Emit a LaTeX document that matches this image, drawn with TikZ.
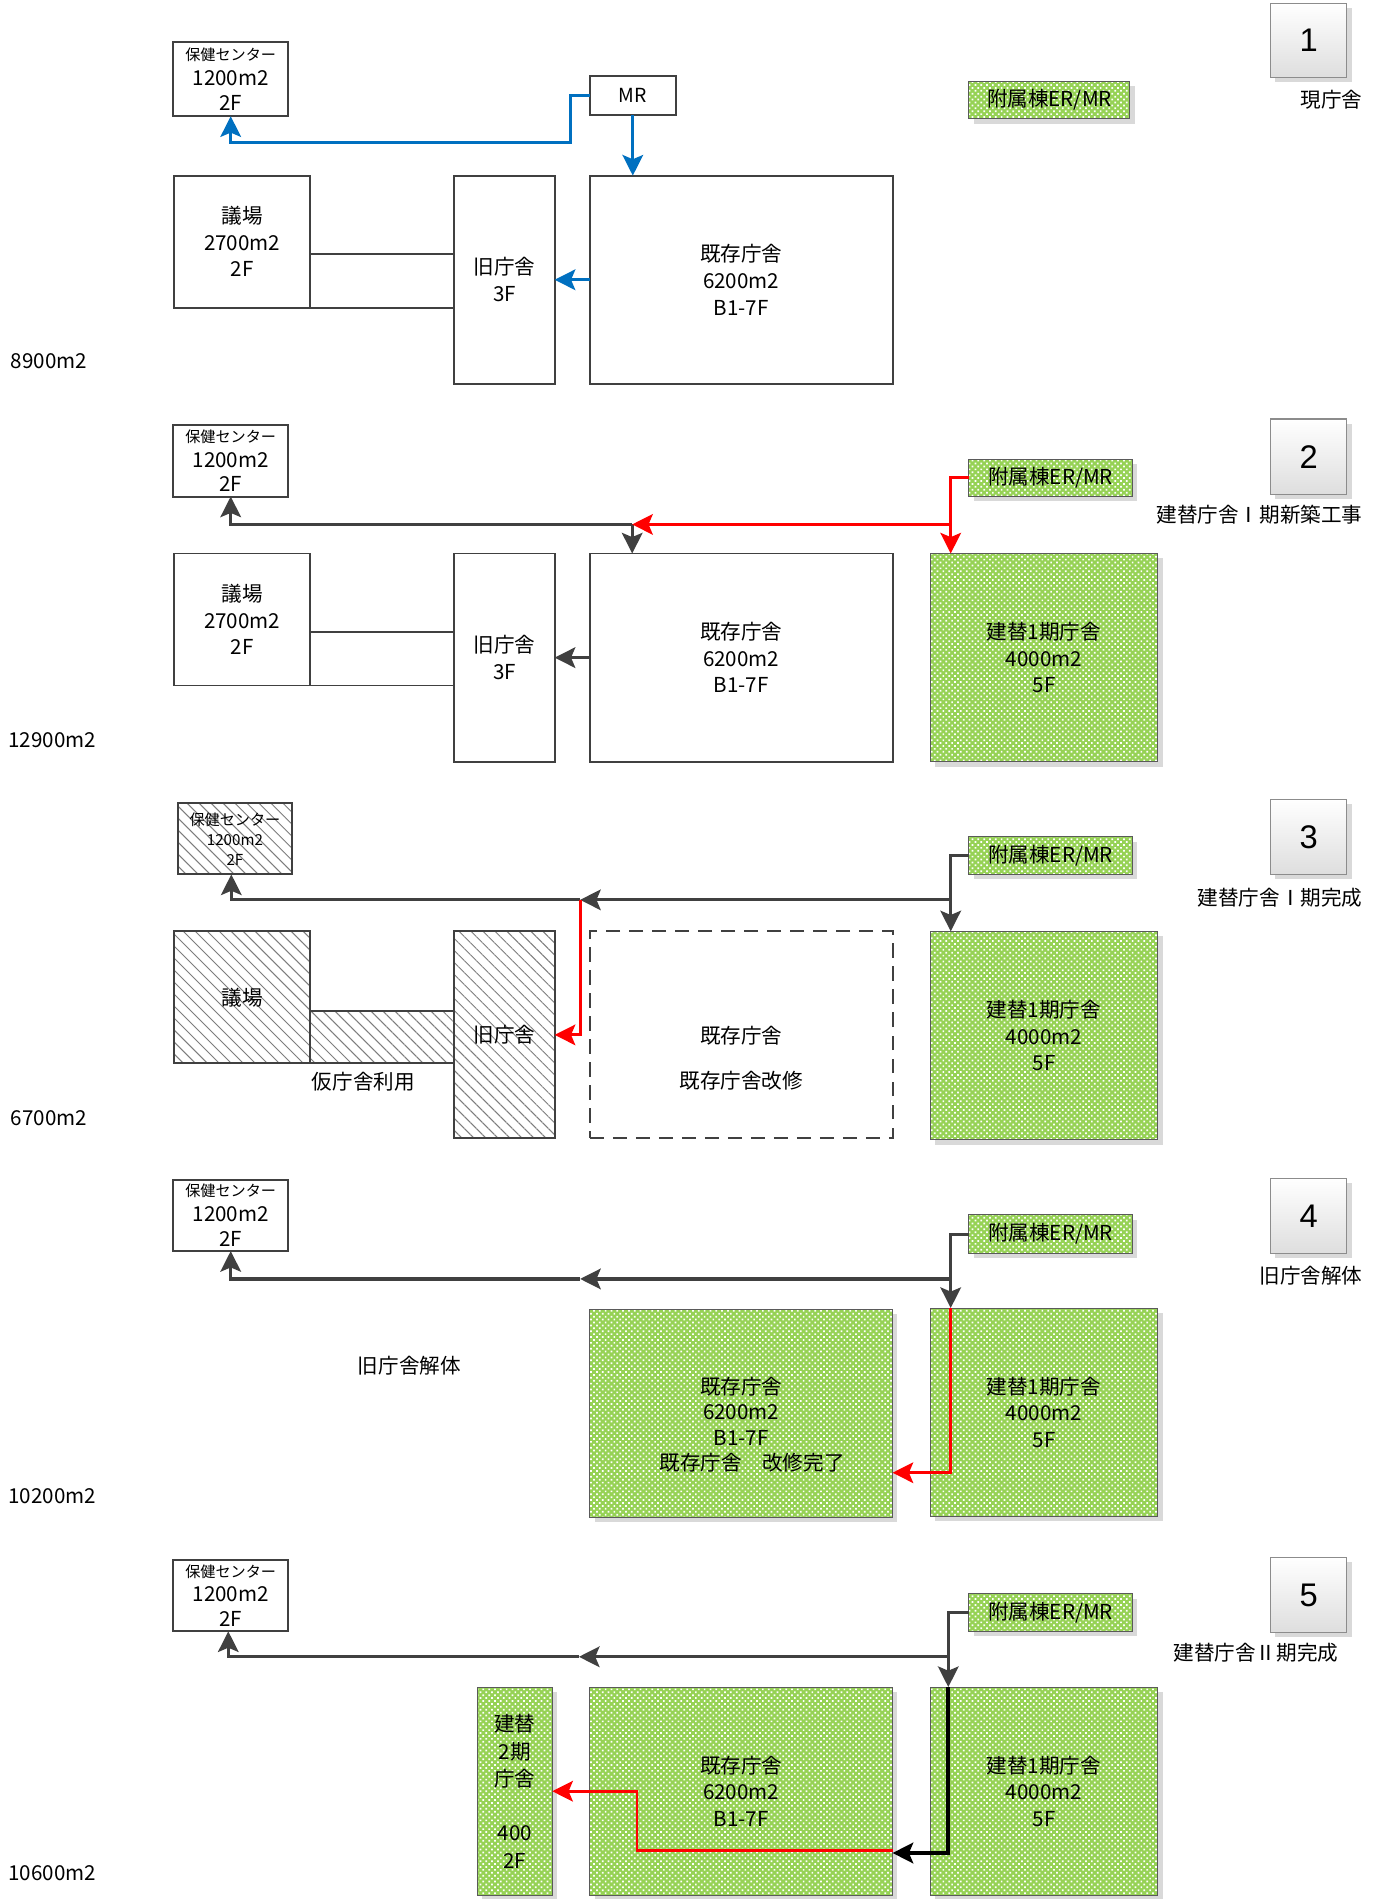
\documentclass[tikz,border=0pt]{standalone}
\usepackage{fontspec}
\setmainfont{Noto Sans CJK JP}
\newfontfamily\numfont{Liberation Sans}
\usetikzlibrary{arrows.meta,patterns.meta,calc}
\definecolor{dk}{RGB}{64,64,64}
\definecolor{blu}{RGB}{0,112,192}
\definecolor{rd}{RGB}{255,0,0}
\definecolor{grn}{RGB}{150,210,85}
\definecolor{gbd}{RGB}{90,90,90}
\definecolor{shc}{RGB}{217,217,217}
\definecolor{hatchc}{RGB}{125,125,125}
\newcommand{\fsz}[2]{\fontsize{#1}{#2}\selectfont}
\begin{document}
\begin{tikzpicture}[x=1pt,y=-1pt,
  every node/.style={inner sep=0pt, outer sep=0pt},
  txt/.style={font=\fsz{17}{22}, align=center, text=black},
  lbl/.style={font=\fsz{17}{22}, text=black},
  wbox/.style={txt, draw=dk, line width=1.6pt, fill=white},
  hcfont/.style={font=\fsz{17}{20.5}},
  gbox/.style={txt, fill=grn, draw=gbd, line width=0.8pt,
    preaction={fill=shc, transform canvas={shift={(4pt,-4pt)}}},
    postaction={pattern={Dots[angle=45,distance=3.4pt,radius=1pt]}, pattern color=white},
    postaction={draw=gbd, line width=0.8pt}},
  hbox/.style={txt, draw=dk, line width=1.6pt, fill=white,
    postaction={pattern={Lines[angle=-45,distance=7pt,line width=0.8pt]}, pattern color=hatchc},
    postaction={draw=dk, line width=1.6pt}},
  dbox/.style={txt, draw=dk, line width=1.6pt, dash pattern=on 12pt off 7pt},
  numbox/.style={draw=black!45, line width=0.9pt, top color=white, bottom color=black!13,
    minimum width=63pt, minimum height=62pt, font=\numfont\fsz{27}{30},
    preaction={fill=shc, transform canvas={shift={(4pt,-4pt)}}}},
  conn/.style={draw=dk, line width=1.6pt},
  bl/.style={draw=blu, line width=2.6pt},
  gy/.style={draw=dk, line width=2.6pt},
  rdl/.style={draw=rd, line width=2.4pt},
  bk/.style={draw=black, line width=3.2pt},
  arrowhd/.style={-{Stealth[length=17pt,width=17pt,inset=3.5pt]}}
]
\useasboundingbox (0,0) rectangle (1142,1568);

% ================= Panel 1 =================
\node[wbox, hcfont, minimum width=95pt, minimum height=61pt] (p1hc) at (190.5,65.5) {{\fsz{12.5}{15}保健センター}\\1200m2\\2F};
\node[wbox, font=\fsz{16}{20}, minimum width=71pt, minimum height=32pt] (p1mr) at (522.5,79) {MR};
\node[wbox, minimum width=112pt, minimum height=109pt] (p1gi) at (200,199.5) {議場\\2700m2\\2F};
\node[wbox, minimum width=83pt, minimum height=172pt] (p1old) at (416.5,231) {旧庁舎\\3F};
\node[wbox, minimum width=250pt, minimum height=172pt] (p1ex) at (612,231) {既存庁舎\\6200m2\\B1-7F};
\node[gbox, minimum width=133pt, minimum height=31pt] (p1fz) at (866.5,82.5) {附属棟ER/MR};
\node[numbox, minimum height=61pt] (p1num) at (1080.5,33.5) {1};
\node[lbl, anchor=east] (p1lab) at (1125,82) {現庁舎};
\node[lbl, anchor=west] (p1area) at (9,298) {8900m2};
\draw[conn] (p1gi.east |- 0,210) -- (p1old.west |- 0,210);
\draw[conn] (p1gi.south east) -- (p1old.west |- p1gi.south east);
\coordinate (p1b) at (471,118);
\draw[bl,arrowhd] (p1mr.west) -| (p1b) -| (p1hc.south);
\draw[bl,arrowhd] (p1mr.south) -- (p1mr.south |- p1ex.north);
\draw[bl,arrowhd] (p1ex.west) -- (p1old.east);

% ================= Panel 2 =================
\node[wbox, hcfont, minimum width=95pt, minimum height=59pt] (p2hc) at (190.5,380.5) {{\fsz{12.5}{15}保健センター}\\1200m2\\2F};
\node[wbox, minimum width=112pt, minimum height=109pt] (p2gi) at (200,511.5) {議場\\2700m2\\2F};
\node[wbox, minimum width=83pt, minimum height=172pt] (p2old) at (416.5,543) {旧庁舎\\3F};
\node[wbox, minimum width=250pt, minimum height=172pt] (p2ex) at (612,543) {既存庁舎\\6200m2\\B1-7F};
\node[gbox, minimum width=188pt, minimum height=172pt] (p2new) at (862,543) {建替1期庁舎\\4000m2\\5F};
\node[gbox, minimum width=135pt, minimum height=31pt] (p2fz) at (867.5,394.5) {附属棟ER/MR};
\node[numbox] (p2num) at (1080.5,377) {2};
\node[lbl, anchor=east] (p2lab) at (1125,425) {建替庁舎Ⅰ期新築工事};
\node[lbl, anchor=west] (p2area) at (7,611) {12900m2};
\draw[conn] (p2gi.east |- 0,522) -- (p2old.west |- 0,522);
\draw[conn] (p2gi.south east) -- (p2old.west |- p2gi.south east);
\coordinate (p2j) at (522,433);
\coordinate (p2r) at (785,433);
\draw[gy,arrowhd] (p2j) -| (p2hc.south);
\draw[gy,arrowhd] (p2j) -- (p2j |- p2ex.north);
\draw[gy,arrowhd] (p2ex.west) -- (p2old.east);
\draw[rdl] (p2fz.west) -| (p2r);
\draw[rdl,arrowhd] (p2r) -- (p2r |- p2new.north);
\draw[rdl,arrowhd] (p2r) -- (p2j);

% ================= Panel 3 =================
\node[hbox, font=\fsz{12.5}{16.5}, minimum width=94pt, minimum height=59pt] (p3hc) at (194,692.5) {保健センター\\1200m2\\2F};
\node[hbox, minimum width=119pt, minimum height=43pt] (p3con) at (315.5,856.5) {};
\node[hbox, minimum width=112pt, minimum height=109pt] (p3gi) at (200,823.5) {議場};
\node[hbox, minimum width=83pt, minimum height=171pt] (p3old) at (416.5,854.5) {旧庁舎};
\node[dbox, minimum width=250pt, minimum height=171pt] (p3ex) at (612,854.5) {};
\node[txt] (p3ext1) at (612,855) {既存庁舎};
\node[txt] (p3ext2) at (612,892) {既存庁舎改修};
\node[gbox, minimum width=188pt, minimum height=172pt] (p3new) at (862,855) {建替1期庁舎\\4000m2\\5F};
\node[gbox, minimum width=135pt, minimum height=31pt] (p3fz) at (867.5,706.5) {附属棟ER/MR};
\node[numbox] (p3num) at (1080.5,691) {3};
\node[lbl, anchor=east] (p3lab) at (1125,741) {建替庁舎Ⅰ期完成};
\node[lbl] (p3tmp) at (300,893) {仮庁舎利用};
\node[lbl, anchor=west] (p3area) at (9,923) {6700m2};
\coordinate (p3j) at (785,743);
\coordinate (p3m) at (479,743);
\draw[gy] (p3fz.west) -| (p3j);
\draw[gy,arrowhd] (p3j) -- (p3j |- p3new.north);
\draw[gy,arrowhd] (p3j) -- (p3m);
\draw[gy,arrowhd] (p3m) -| ([xshift=-3pt]p3hc.south);
\draw[rdl,arrowhd] (p3m) |- (p3old.east);

% ================= Panel 4 =================
\node[wbox, hcfont, minimum width=95pt, minimum height=59pt] (p4hc) at (190.5,1003.5) {{\fsz{12.5}{15}保健センター}\\1200m2\\2F};
\node[gbox, minimum width=250pt, minimum height=172pt] (p4ex) at (612,1167) {};
\node[txt, font=\fsz{17}{21}] (p4ext) at (612,1176.5) {既存庁舎\\6200m2\\B1-7F\\\hspace*{18pt}既存庁舎　改修完了};
\node[gbox, minimum width=188pt, minimum height=172pt] (p4new) at (862,1166) {建替1期庁舎\\4000m2\\5F};
\node[gbox, minimum width=135pt, minimum height=32pt] (p4fz) at (867.5,1019) {附属棟ER/MR};
\node[numbox] (p4num) at (1080.5,1004) {4};
\node[lbl, anchor=east] (p4lab) at (1125,1053) {旧庁舎解体};
\node[lbl] (p4dem) at (338,1128) {旧庁舎解体};
\node[lbl, anchor=west] (p4area) at (7,1235) {10200m2};
\coordinate (p4j) at (785,1056);
\coordinate (p4m) at (479,1056);
\coordinate (p4r) at (785,1216);
\draw[gy] (p4fz.west) -| (p4j);
\draw[gy,arrowhd] (p4j) -- (p4j |- p4new.north);
\draw[gy,arrowhd] (p4j) -- (p4m);
\draw[gy,arrowhd] (p4m) -| (p4hc.south);
\draw[rdl,arrowhd] (p4j |- p4new.north) -- (p4r) -- (p4r -| p4ex.east);

% ================= Panel 5 =================
\node[wbox, hcfont, minimum width=95pt, minimum height=59pt] (p5hc) at (190.5,1317.5) {{\fsz{12.5}{15}保健センター}\\1200m2\\2F};
\node[gbox, font=\fsz{17}{22.5}, minimum width=62pt, minimum height=172pt] (p5n2) at (425,1479) {建替\\2期\\庁舎\\[22.5pt]400\\2F};
\node[gbox, minimum width=250pt, minimum height=172pt] (p5ex) at (612,1479) {既存庁舎\\6200m2\\B1-7F};
\node[gbox, minimum width=188pt, minimum height=172pt] (p5new) at (862,1479) {建替1期庁舎\\4000m2\\5F};
\node[gbox, minimum width=135pt, minimum height=31pt] (p5fz) at (867.5,1331.5) {附属棟ER/MR};
\node[numbox] (p5num) at (1080.5,1317) {5};
\node[lbl, anchor=east] (p5lab) at (1105,1365) {建替庁舎Ⅱ期完成};
\node[lbl, anchor=west] (p5area) at (7,1547) {10600m2};
\coordinate (p5j) at (783,1368);
\coordinate (p5m) at (478,1368);
\coordinate (p5k) at (783,1530);
\coordinate (p5r) at (526,1528);
\draw[gy] (p5fz.west) -| (p5j);
\draw[gy,arrowhd] (p5j) -- (p5j |- p5new.north);
\draw[gy,arrowhd] (p5j) -- (p5m);
\draw[gy,arrowhd] (p5m) -| ([xshift=-2pt]p5hc.south);
\draw[bk,arrowhd] (p5j |- p5new.north) -- (p5k) -- (p5k -| p5ex.east);
\draw[rdl,arrowhd] (p5ex.east |- p5r) -- (p5r) |- (p5n2.east);
\end{tikzpicture}
\end{document}
